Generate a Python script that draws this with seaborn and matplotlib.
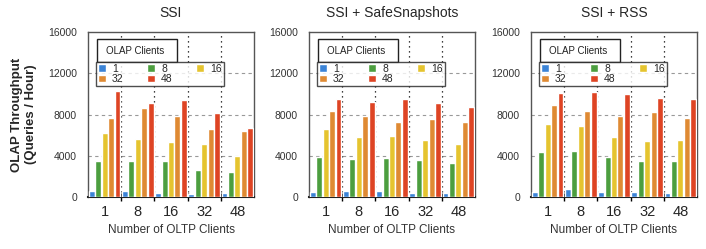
import matplotlib
matplotlib.use("Agg")
import matplotlib.pyplot as plt
from matplotlib.patches import Rectangle
import numpy as np
import pandas as pd
import seaborn as sns

# data
oltp_clients = ["1", "8", "16", "32", "48"]
olap_clients = ["1", "8", "16", "32", "48"]
titles = ["SSI", "SSI + SafeSnapshots", "SSI + RSS"]

# rows: OLAP clients, columns: OLTP clients
ssi = [
    [550, 550, 420, 260, 420],
    [3460, 3460, 3460, 2590, 2400],
    [6250, 5630, 5300, 5110, 4010],
    [7640, 8640, 7830, 6600, 6370],
    [10290, 9160, 9390, 8120, 6730],
]
ssi_safe = [
    [480, 550, 550, 420, 420],
    [3880, 3660, 3820, 3560, 3330],
    [6630, 5830, 5950, 5500, 5180],
    [8320, 7860, 7250, 7610, 7250],
    [9480, 9260, 9550, 9090, 8700],
]
ssi_rss = [
    [450, 740, 450, 520, 360],
    [4340, 4430, 3880, 3460, 3460],
    [7120, 6860, 5790, 5440, 5500],
    [8900, 8380, 7860, 8220, 7640],
    [10130, 10160, 10000, 9610, 9480],
]
colors = ["#3b83d6", "#4c9e3f", "#e5c42f", "#df8a33", "#de4424"]

sns.set_style("white")
plt.rcParams["font.family"] = ["Liberation Sans", "DejaVu Sans"]

fig = plt.figure(figsize=(7.06, 2.49), dpi=100)
lefts = [88, 309, 531]
W, H = 706, 249

for i, (title, vals) in enumerate(zip(titles, [ssi, ssi_safe, ssi_rss])):
    ax = fig.add_axes([lefts[i] / W, (H - 197) / H, 166 / W, 165 / H])
    rows = []
    for j, olap in enumerate(olap_clients):
        for k, oltp in enumerate(oltp_clients):
            rows.append({"oltp": oltp, "olap": olap, "tput": vals[j][k]})
    df = pd.DataFrame(rows)
    sns.barplot(data=df, x="oltp", y="tput", hue="olap", order=oltp_clients,
                hue_order=olap_clients, palette=colors, width=0.97, gap=0.08,
                saturation=1, ax=ax, zorder=3)
    h, l = ax.get_legend_handles_labels()
    if ax.get_legend():
        ax.get_legend().remove()
    # row-major order in a 3-column legend
    order = [0, 3, 1, 4, 2]
    h = [h[o] for o in order]
    l = [l[o] for o in order]

    ax.set_ylim(0, 16000)
    ax.set_xlim(-0.5, 4.5)
    ax.set_yticks([0, 4000, 8000, 12000, 16000])
    for y in [4000, 8000, 12000]:
        ax.axhline(y, color="#999999", ls=(0, (3, 3)), lw=0.8, zorder=1)
    for x in [0.5, 1.5, 2.5, 3.5]:
        ax.axvline(x, color="black", ls=(0, (1, 3)), lw=0.9, zorder=1)
    ax.set_xticks([0.5, 1.5, 2.5, 3.5], minor=True)
    ax.tick_params(axis="x", which="minor", length=6, width=1, color="black",
                   direction="inout", bottom=True)
    ax.tick_params(axis="x", which="major", length=0, labelsize=10.5, pad=6)
    ax.tick_params(axis="y", length=0, labelsize=7.5, pad=8, labelcolor="#333333")
    for s in ax.spines.values():
        s.set_color("#555555")
        s.set_linewidth(1)
    ax.spines["bottom"].set_color("#222222")
    ax.spines["bottom"].set_linewidth(1.5)
    ax.set_title(title, fontsize=10, pad=11)
    ax.set_xlabel("Number of OLTP Clients", fontsize=8.5, color="#333333", labelpad=3)
    if i == 0:
        ax.set_ylabel("OLAP Throughput\n(Queries / Hour)", fontsize=9.5,
                      fontweight="bold", labelpad=8)
    else:
        ax.set_ylabel("")

    leg = ax.legend(h, l, ncol=3, loc="upper left", bbox_to_anchor=(0.048, 0.818),
                    borderaxespad=0, fontsize=7.5, frameon=True, fancybox=False,
                    borderpad=0.15, labelspacing=0.05, handlelength=0.8,
                    handleheight=0.8, handletextpad=0.6, columnspacing=2.2)
    leg.get_frame().set_edgecolor("#222222")
    leg.get_frame().set_linewidth(1)
    leg.set_zorder(10)
    ax.add_patch(Rectangle((0.054, 0.818), 0.482, 0.14, transform=ax.transAxes,
                           fc="white", ec="#222222", lw=1, zorder=9))
    ax.text(0.11, 0.885, "OLAP Clients", transform=ax.transAxes, fontsize=7,
            va="center", ha="left", zorder=11, color="#222222")

fig.savefig("out.png", dpi=100)
